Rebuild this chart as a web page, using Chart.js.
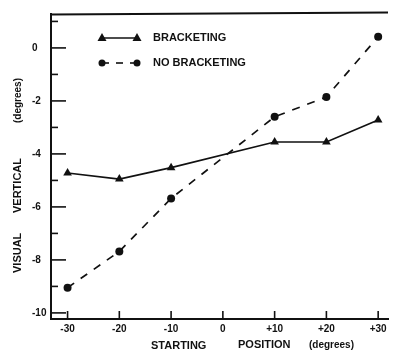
<!DOCTYPE html>
<html>
<head>
<meta charset="utf-8">
<script src="https://cdn.jsdelivr.net/npm/chart.js@4"></script>
<style>
html,body{margin:0;padding:0;background:#fff;}
#wrap{width:393px;height:353px;}
</style>
</head>
<body>
<div id="wrap"><canvas id="c" width="393" height="353"></canvas></div>
<script>
// ---- data ----
const positions = [-30, -20, -10, 10, 20, 30];
const bracketing = [-4.72, -4.95, -4.52, -3.55, -3.55, -2.72];
const noBracketing = [-9.05, -7.68, -5.68, -2.6, -1.85, 0.42];
const xTickValues = [-30, -20, -10, 0, 10, 20, 30];
const xTickLabels = ['-30', '-20', '-10', '0', '+10', '+20', '+30'];
const yMajorValues = [0, -2, -4, -6, -8, -10];
const yMajorLabels = ['0', '-2', '-4', '-6', '-8', '-10'];
const yMinorValues = [1, -1, -3, -5, -7, -9];
const seriesNames = ['BRACKETING', 'NO BRACKETING'];

const toXY = (xs, ys) => xs.map((x, i) => ({x: x, y: ys[i]}));
const INK = '#111';
const FONT = 'Liberation Sans, Arial, sans-serif';

const decor = {
  id: 'decor',
  afterDraw(chart) {
    const ctx = chart.ctx;
    const xs = chart.scales.x, ys = chart.scales.y;
    const a = chart.chartArea;
    ctx.save();
    ctx.strokeStyle = INK;
    ctx.fillStyle = INK;
    ctx.lineWidth = 2;
    // top frame line
    ctx.beginPath();
    ctx.moveTo(a.left, a.top + 0.5);
    ctx.lineTo(a.right, a.top - 1.5);
    ctx.stroke();
    // x ticks (inward)
    ctx.lineWidth = 1.6;
    xTickValues.forEach(v => {
      const px = xs.getPixelForValue(v);
      ctx.beginPath();
      ctx.moveTo(px, a.bottom);
      ctx.lineTo(px, a.bottom - 8);
      ctx.stroke();
    });
    // y ticks
    yMajorValues.forEach(v => {
      const py = ys.getPixelForValue(v);
      ctx.beginPath();
      ctx.moveTo(a.left, py);
      ctx.lineTo(a.left + 15, py);
      ctx.stroke();
    });
    yMinorValues.forEach(v => {
      const py = ys.getPixelForValue(v);
      ctx.beginPath();
      ctx.moveTo(a.left, py);
      ctx.lineTo(a.left + 7, py);
      ctx.stroke();
    });
    // tick labels
    ctx.font = 'bold 10px ' + FONT;
    ctx.textBaseline = 'middle';
    ctx.textAlign = 'center';
    xTickValues.forEach((v, i) => {
      ctx.fillText(xTickLabels[i], xs.getPixelForValue(v), 329);
    });
    ctx.textAlign = 'left';
    yMajorValues.forEach((v, i) => {
      ctx.fillText(yMajorLabels[i], 32, ys.getPixelForValue(v));
    });
    // x axis title
    ctx.font = 'bold 11px ' + FONT;
    ctx.textAlign = 'left';
    ctx.fillText('STARTING', 151, 346);
    ctx.fillText('POSITION', 238, 345);
    ctx.font = 'bold 10px ' + FONT;
    ctx.fillText('(degrees)', 309, 345);
    // y axis title
    ctx.save();
    ctx.translate(18, 273);
    ctx.rotate(-Math.PI / 2);
    ctx.font = 'bold 11px ' + FONT;
    ctx.textAlign = 'left';
    ctx.fillText('VISUAL', 0, 0);
    ctx.fillText('VERTICAL', 60, 0);
    ctx.font = 'bold 10px ' + FONT;
    ctx.fillText('(degrees)', 150, 0);
    ctx.restore();
    // legend
    const lg = [
      {y: 38, dash: [], marker: 'tri'},
      {y: 63, dash: [7, 7], marker: 'dot'}
    ];
    lg.forEach((it, i) => {
      ctx.lineWidth = 1.6;
      ctx.setLineDash(it.dash);
      ctx.beginPath();
      ctx.moveTo(102, it.y);
      ctx.lineTo(137, it.y);
      ctx.stroke();
      ctx.setLineDash([]);
      [102, 137].forEach(mx => {
        ctx.beginPath();
        if (it.marker === 'tri') {
          ctx.moveTo(mx, it.y - 5);
          ctx.lineTo(mx + 4.5, it.y + 3);
          ctx.lineTo(mx - 4.5, it.y + 3);
          ctx.closePath();
        } else {
          ctx.arc(mx, it.y, 3.5, 0, Math.PI * 2);
        }
        ctx.fill();
      });
      ctx.font = 'bold 11px ' + FONT;
      ctx.textAlign = 'left';
      ctx.fillText(seriesNames[i], 153, it.y);
    });
    ctx.restore();
  }
};

new Chart(document.getElementById('c'), {
  type: 'line',
  data: {
    datasets: [
      {
        label: seriesNames[0],
        data: toXY(positions, bracketing),
        borderColor: INK,
        backgroundColor: INK,
        borderWidth: 1.7,
        pointStyle: 'triangle',
        pointRadius: 5,
        pointBorderWidth: 0,
        tension: 0,
        fill: false
      },
      {
        label: seriesNames[1],
        data: toXY(positions, noBracketing),
        borderColor: INK,
        backgroundColor: INK,
        borderWidth: 1.7,
        borderDash: [8, 8],
        pointStyle: 'circle',
        pointRadius: 4,
        pointBorderWidth: 0,
        tension: 0,
        fill: false
      }
    ]
  },
  options: {
    responsive: false,
    animation: false,
    devicePixelRatio: 1,
    layout: {padding: {top: 14, right: 0, left: 0, bottom: 0}},
    plugins: {legend: {display: false}, tooltip: {enabled: false}},
    scales: {
      x: {
        type: 'linear',
        min: -33.2,
        max: 31.9,
        afterFit: s => { s.height = 34; },
        ticks: {display: false},
        grid: {display: false},
        border: {display: true, color: INK, width: 2}
      },
      y: {
        type: 'linear',
        min: -10.23,
        max: 1.28,
        afterFit: s => { s.width = 51; },
        ticks: {display: false},
        grid: {display: false},
        border: {display: true, color: INK, width: 2}
      }
    }
  },
  plugins: [decor]
});
</script>
</body>
</html>
